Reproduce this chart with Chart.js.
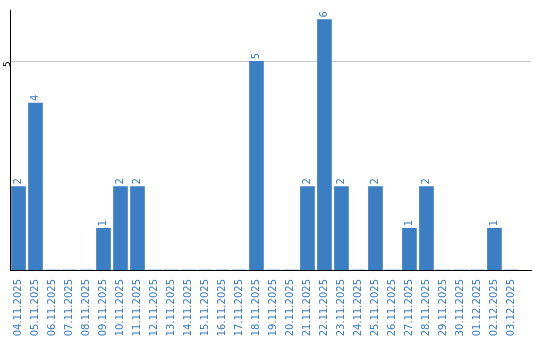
<!DOCTYPE html>
<html>
<head>
<meta charset="utf-8">
<script src="https://cdn.jsdelivr.net/npm/chart.js@4"></script>
<style>
  html, body { margin: 0; padding: 0; background: #fff; }
  #wrap { width: 540px; height: 340px; }
</style>
</head>
<body>
<div id="wrap"><canvas id="ordersChart" width="540" height="340"></canvas></div>
<script>
var days = ['04.11.2025', '05.11.2025', '06.11.2025', '07.11.2025', '08.11.2025', '09.11.2025',
  '10.11.2025', '11.11.2025', '12.11.2025', '13.11.2025', '14.11.2025', '15.11.2025',
  '16.11.2025', '17.11.2025', '18.11.2025', '19.11.2025', '20.11.2025', '21.11.2025',
  '22.11.2025', '23.11.2025', '24.11.2025', '25.11.2025', '26.11.2025', '27.11.2025',
  '28.11.2025', '29.11.2025', '30.11.2025', '01.12.2025', '02.12.2025', '03.12.2025'];
var counts = [2, 4, 0, 0, 0, 1, 2, 2, 0, 0, 0, 0, 0, 0, 5, 0, 0, 2, 6, 2, 0, 2, 0, 1, 2, 0, 0, 0, 1, 0];
var yTicks = [5];

var blue = '#3b7ec3';
var labelBlue = '#3a7cc1';

// value labels drawn above each bar, rotated like the axis labels
var barValues = {
  id: 'barValues',
  afterDatasetsDraw: function (chart) {
    var ctx = chart.ctx;
    var meta = chart.getDatasetMeta(0);
    ctx.save();
    ctx.font = '10px "DejaVu Sans"';
    ctx.fillStyle = labelBlue;
    ctx.textAlign = 'left';
    ctx.textBaseline = 'middle';
    meta.data.forEach(function (bar, i) {
      var v = counts[i];
      if (!v) return;
      ctx.save();
      ctx.translate(bar.x, bar.y - 2);
      ctx.rotate(-Math.PI / 2);
      ctx.fillText(String(v), 0, 0);
      ctx.restore();
    });
    ctx.restore();
  }
};

new Chart(document.getElementById('ordersChart'), {
  type: 'bar',
  data: {
    labels: days,
    datasets: [{
      data: counts,
      backgroundColor: blue,
      borderWidth: 0,
      barThickness: 14
    }]
  },
  options: {
    responsive: false,
    animation: false,
    layout: { padding: { top: 10, right: 9, left: 0, bottom: 0 } },
    plugins: {
      legend: { display: false },
      tooltip: { enabled: false }
    },
    scales: {
      x: {
        afterBuildTicks: function (scale) {
          // leave a bit of empty space after the last day
          scale._valueRange = 30.65;
        },
        afterFit: function (scale) { scale.height = 70; },
        grid: { display: false },
        border: { color: '#000', width: 1 },
        ticks: {
          color: labelBlue,
          font: { family: 'DejaVu Sans', size: 10 },
          minRotation: 90,
          maxRotation: 90,
          autoSkip: false,
          padding: 1
        }
      },
      y: {
        min: 0,
        max: 6.23,
        afterBuildTicks: function (scale) {
          scale.ticks = yTicks.map(function (v) { return { value: v }; });
        },
        afterFit: function (scale) { scale.width = 10; },
        grid: { color: '#c8c8c8', lineWidth: 1, drawTicks: false },
        border: { color: '#000', width: 1 },
        ticks: {
          color: '#000',
          font: { family: 'DejaVu Sans', size: 9 },
          minRotation: 90,
          maxRotation: 90,
          padding: 2
        }
      }
    }
  },
  plugins: [barValues]
});
</script>
</body>
</html>
